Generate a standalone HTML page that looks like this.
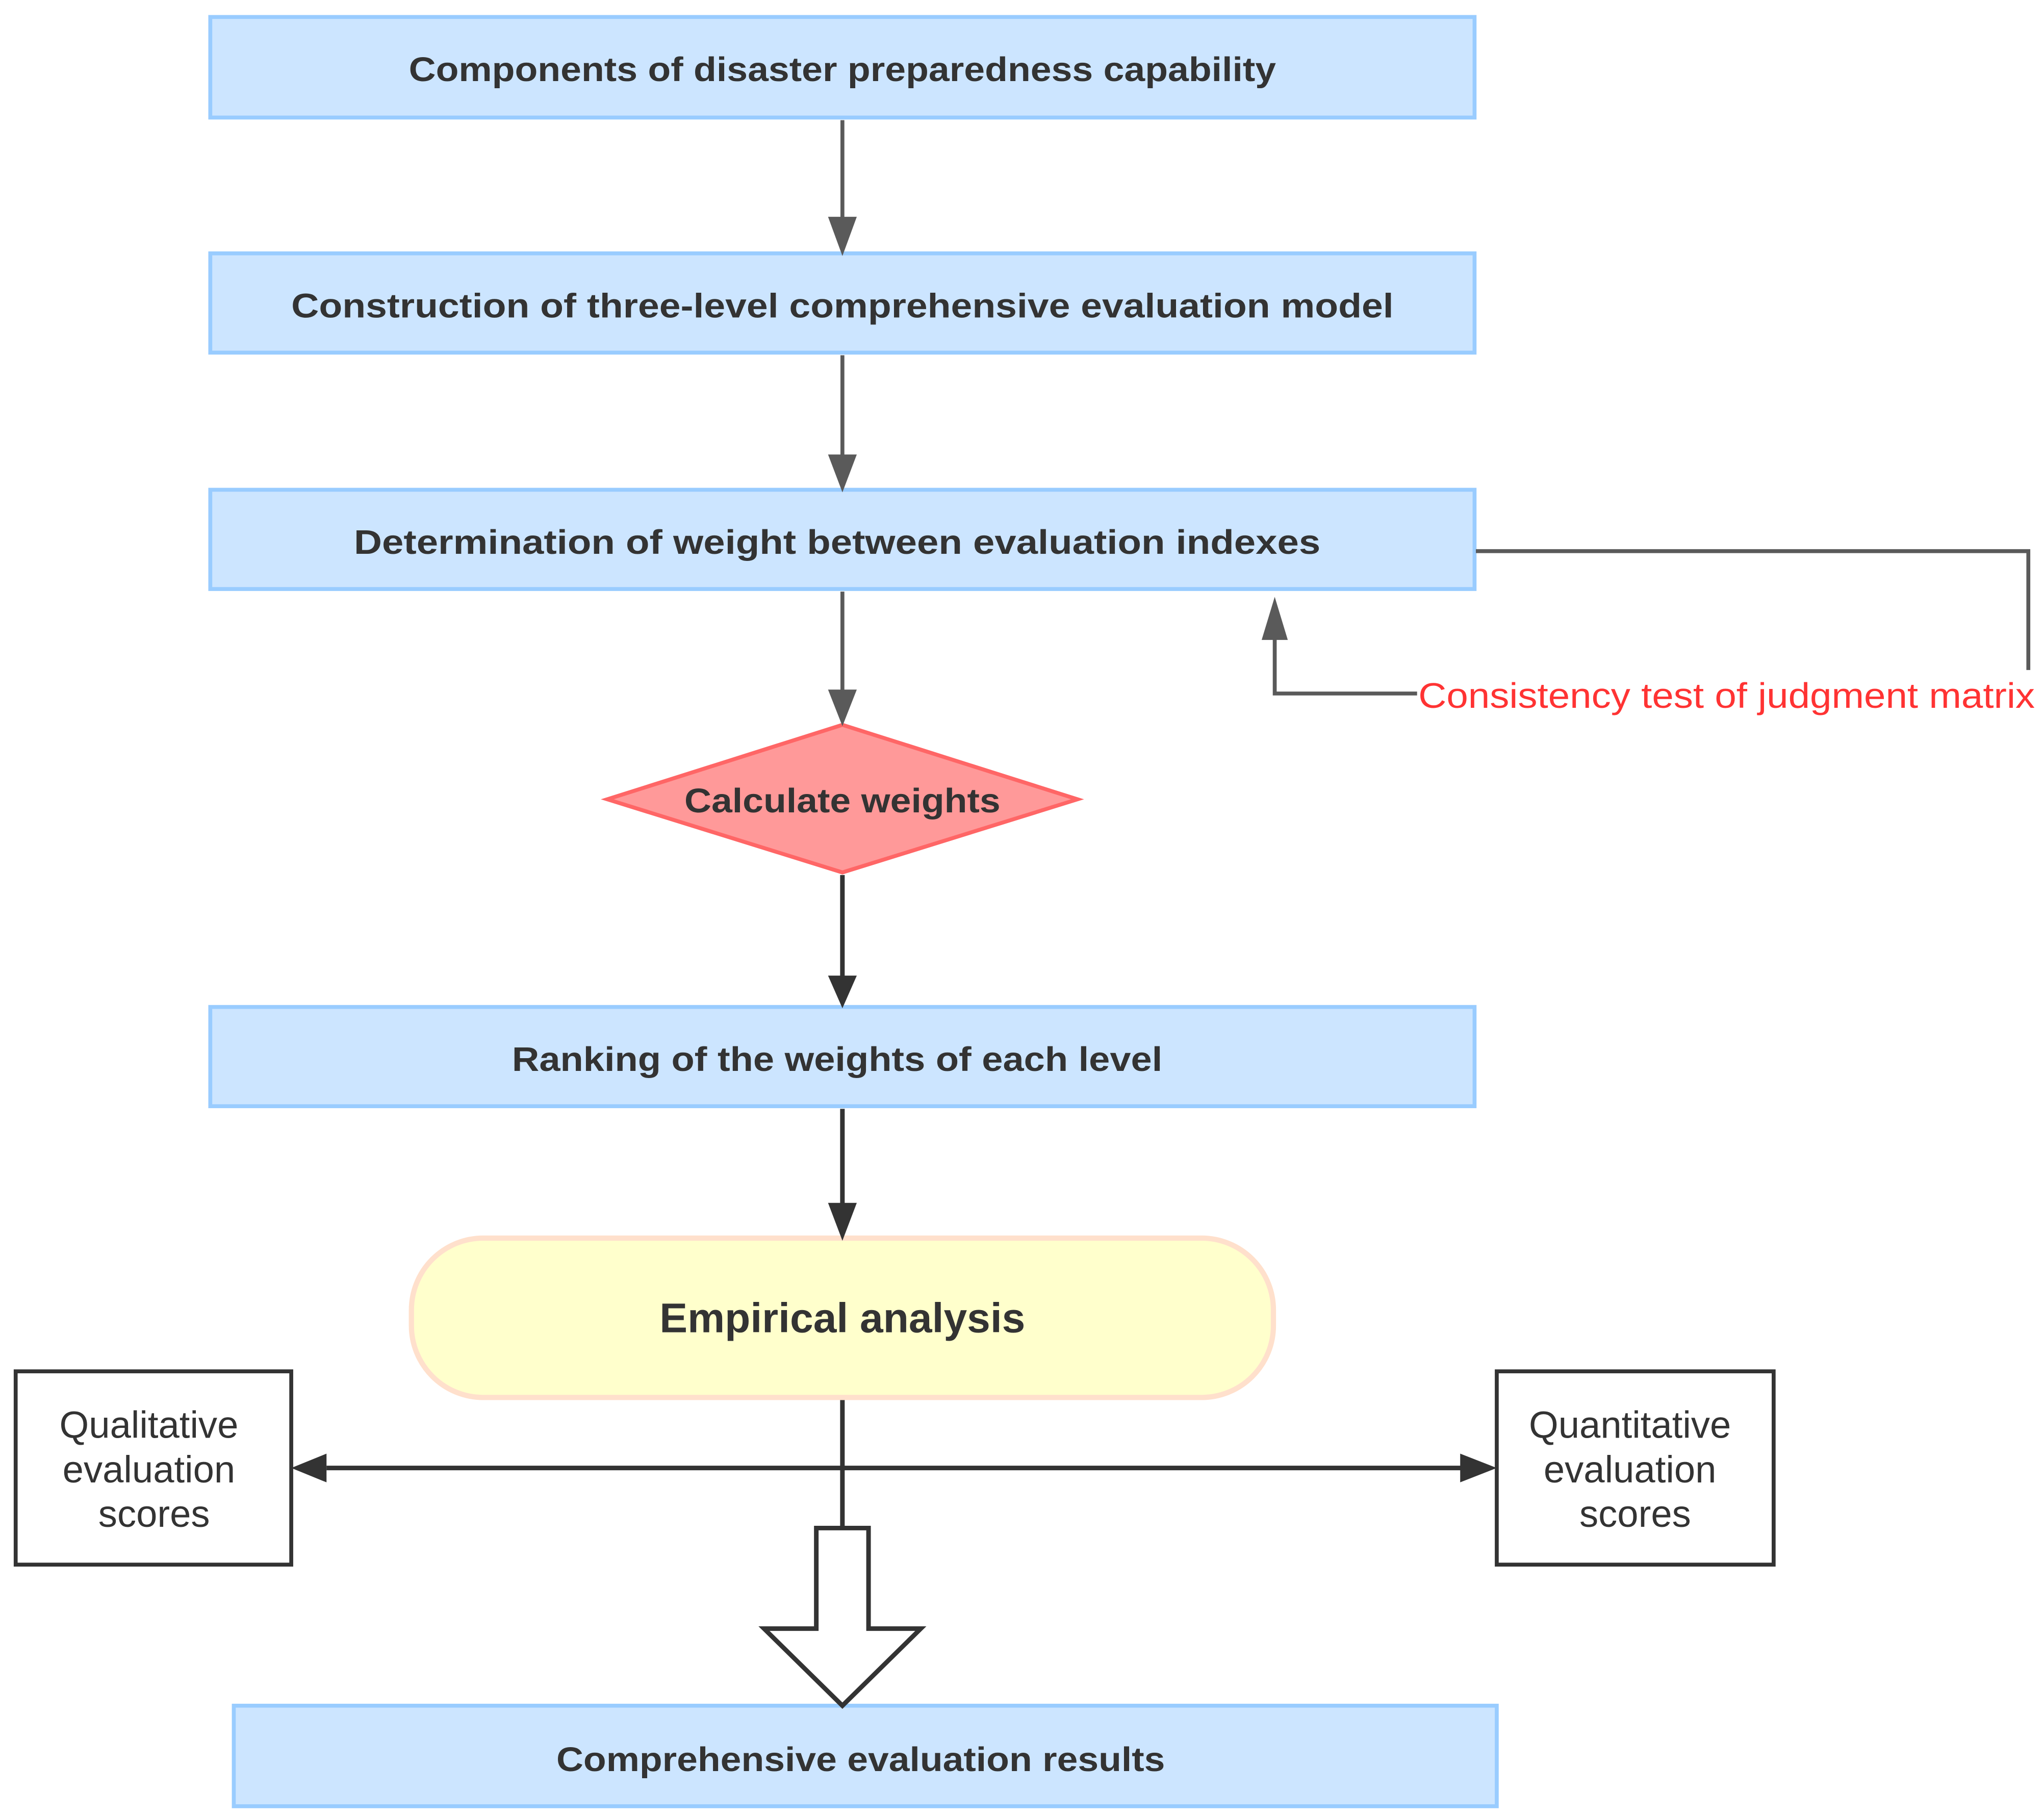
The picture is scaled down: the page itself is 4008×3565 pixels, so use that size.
<!DOCTYPE html>
<html><head><meta charset="utf-8"><style>html,body{margin:0;padding:0;background:#fff}svg{display:block}</style></head>
<body>
<svg width="4008" height="3565" viewBox="0 0 1565 1392" preserveAspectRatio="none" xmlns="http://www.w3.org/2000/svg" font-family="Liberation Sans, sans-serif">
<g fill="#cce5ff" stroke="#99ccff" stroke-width="3">
<rect x="161" y="13" width="968" height="77"/>
<rect x="161" y="194" width="968" height="76"/>
<rect x="161" y="375" width="968" height="76"/>
<rect x="161" y="771" width="968" height="76"/>
<rect x="179" y="1306" width="967" height="77"/>
</g>
<polygon points="645,555 825,612 645,668 465,612" fill="#ff9999" stroke="#ff6666" stroke-width="3"/>
<rect x="315" y="948" width="660" height="122" rx="55" fill="#ffffcc" stroke="#ffe0cc" stroke-width="4"/>
<rect x="12" y="1050" width="211" height="148" fill="#fff" stroke="#333" stroke-width="3"/>
<rect x="1146" y="1050" width="212" height="148" fill="#fff" stroke="#333" stroke-width="3"/>
<g stroke="#5a5a5a" stroke-width="3" fill="none">
<line x1="645" y1="92" x2="645" y2="170"/>
<line x1="645" y1="272" x2="645" y2="352"/>
<line x1="645" y1="453" x2="645" y2="532"/>
<polyline points="1130,422 1553,422 1553,513"/>
<polyline points="1085,531 976,531 976,488"/>
</g>
<g fill="#5a5a5a">
<polygon points="634,166 656,166 645,196"/>
<polygon points="634,348 656,348 645,377"/>
<polygon points="634,528 656,528 645,556"/>
<polygon points="966,490 986,490 976,457"/>
</g>
<g stroke="#333" stroke-width="3.5" fill="none">
<line x1="645" y1="670" x2="645" y2="750"/>
<line x1="645" y1="849" x2="645" y2="925"/>
<line x1="645" y1="1072" x2="645" y2="1170"/>
<line x1="250" y1="1124" x2="1120" y2="1124"/>
</g>
<g fill="#333">
<polygon points="634,747 656,747 645,772"/>
<polygon points="634,921 656,921 645,950"/>
<polygon points="250,1113 250,1135 223,1124"/>
<polygon points="1118,1113 1118,1135 1146,1124"/>
</g>
<polygon points="625,1170 665,1170 665,1247 705,1247 645,1306 585,1247 625,1247" fill="#fff" stroke="#333" stroke-width="3.5"/>
<g font-weight="bold" fill="#333" font-size="26" text-anchor="middle">
<text x="645" y="62" textLength="664" lengthAdjust="spacingAndGlyphs">Components of disaster preparedness capability</text>
<text x="645" y="243" textLength="844" lengthAdjust="spacingAndGlyphs">Construction of three-level comprehensive  evaluation model</text>
<text x="641" y="424" textLength="740" lengthAdjust="spacingAndGlyphs">Determination of weight  between evaluation indexes</text>
<text x="645" y="622" textLength="242" lengthAdjust="spacingAndGlyphs">Calculate weights</text>
<text x="641" y="820" textLength="498" lengthAdjust="spacingAndGlyphs">Ranking of the weights of each level</text>
<text x="659" y="1356" textLength="466" lengthAdjust="spacingAndGlyphs">Comprehensive evaluation results</text>
<text x="645" y="1020" font-size="32" textLength="280" lengthAdjust="spacingAndGlyphs">Empirical analysis</text>
</g>
<g fill="#333" font-size="29" text-anchor="middle">
<text x="114" y="1101">Qualitative</text>
<text x="114" y="1135">evaluation</text>
<text x="118" y="1169">scores</text>
<text x="1248" y="1101">Quantitative</text>
<text x="1248" y="1135">evaluation</text>
<text x="1252" y="1169">scores</text>
</g>
<text x="1086" y="542" fill="#ff3333" font-size="27" textLength="472" lengthAdjust="spacingAndGlyphs">Consistency test of judgment matrix</text>
</svg>
</body></html>
